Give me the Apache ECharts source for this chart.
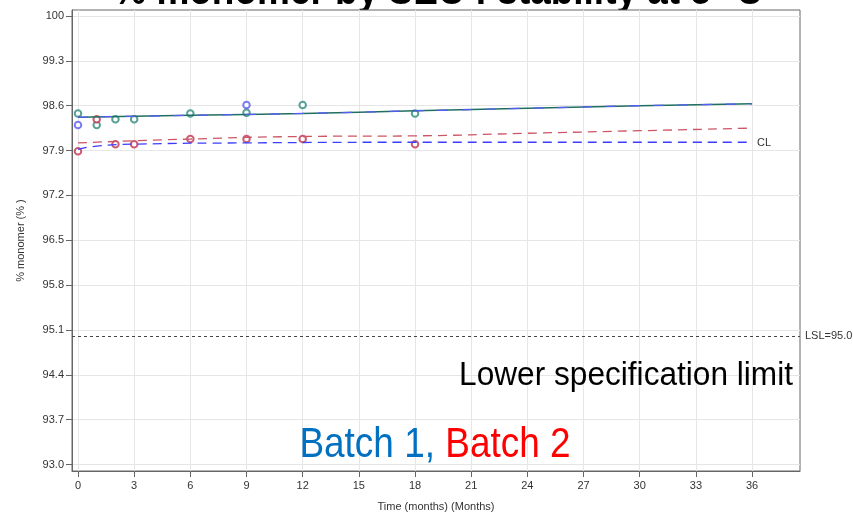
<!DOCTYPE html>
<html>
<head>
<meta charset="utf-8">
<script src="https://cdn.jsdelivr.net/npm/echarts@6/dist/echarts.min.js"></script>
<style>html,body{margin:0;padding:0;background:#fff}#c{width:853px;height:512px}</style>
</head>
<body>
<div id="c"></div>
<script>
// ---- data ----
var xTicks = [0, 3, 6, 9, 12, 15, 18, 21, 24, 27, 30, 33, 36];
var yTicks = [93.0, 93.7, 94.4, 95.1, 95.8, 96.5, 97.2, 97.9, 98.6, 99.3, 100];

var tealMonths = [0, 1, 2, 3, 6, 9, 12, 18];
var tealValues = [98.48, 98.30, 98.39, 98.39, 98.48, 98.49, 98.61, 98.48];

var blueMonths = [0, 9];
var blueValues = [98.30, 98.61];

var redMonths = [0, 1, 2, 3, 6, 9, 12, 18];
var redValues = [97.89, 98.39, 98.00, 98.00, 98.08, 98.08, 98.08, 98.00];

var fitMonths = [0, 6, 12, 18, 24, 30, 36];
var tealFit = [98.42, 98.45, 98.48, 98.52, 98.56, 98.60, 98.63];
var redFit = [98.02, 98.08, 98.12, 98.13, 98.17, 98.21, 98.25];
var blueFitMonths = [0, 1, 3, 9, 18, 36];
var blueFit = [97.92, 97.97, 98.00, 98.02, 98.03, 98.03];

var lsl = 95.0;

function pairs(xs, ys) { return xs.map(function (x, i) { return [x, ys[i]]; }); }

var chart = echarts.init(document.getElementById('c'), null, { renderer: 'canvas' });
var FONT = '"Liberation Sans", Arial, sans-serif';

var option = {
  animation: false,
  backgroundColor: '#fff',
  grid: {
    left: 72, right: 53, top: 10, bottom: 41,
    outerBoundsMode: 'none', containLabel: false,
    show: true, backgroundColor: '#fff', borderColor: '#666', borderWidth: 1
  },
  xAxis: {
    type: 'value',
    min: -0.32, max: 38.56,
    name: 'Time (months) (Months)',
    nameLocation: 'middle', nameGap: 30,
    nameTextStyle: { fontFamily: FONT, fontSize: 11, color: '#333' },
    axisLine: { show: true, onZero: false, lineStyle: { color: '#666' } },
    axisTick: { show: true, length: 6, customValues: xTicks, lineStyle: { color: '#666' } },
    axisLabel: { customValues: xTicks, fontFamily: FONT, fontSize: 11, color: '#333', margin: 9 },
    splitLine: { show: true, lineStyle: { color: '#e6e6e6', width: 1 } }
  },
  yAxis: {
    type: 'value',
    min: 92.899, max: 100.094,
    name: '% monomer (% )',
    nameLocation: 'middle', nameGap: 46,
    nameTextStyle: { fontFamily: FONT, fontSize: 11, color: '#333' },
    axisLine: { show: true, onZero: false, lineStyle: { color: '#666' } },
    axisTick: { show: true, length: 6, customValues: yTicks, lineStyle: { color: '#666' } },
    axisLabel: {
      customValues: yTicks, fontFamily: FONT, fontSize: 11, color: '#333', margin: 8,
      formatter: function (v) { return Math.abs(v - 100) < 1e-6 ? '100' : v.toFixed(1); }
    },
    splitLine: { show: true, lineStyle: { color: '#e6e6e6', width: 1 } }
  },
  series: [
    {
      type: 'line', name: 'fitTeal', data: pairs(fitMonths, tealFit),
      showSymbol: false, smooth: true,
      lineStyle: { color: '#1f6f62', width: 1.5 },
      markLine: {
        silent: true, symbol: 'none',
        lineStyle: { color: '#444', type: [3, 3], width: 1 },
        label: { show: true, position: 'end', formatter: 'LSL=95.0', color: '#333', fontFamily: FONT, fontSize: 11, distance: 5 },
        data: [{ yAxis: lsl }]
      }
    },
    {
      type: 'line', name: 'fitTealBlue', data: pairs(fitMonths, tealFit),
      showSymbol: false, smooth: true,
      lineStyle: { color: '#5a5aff', width: 1.2, type: [10, 14] }
    },
    {
      type: 'line', name: 'fitRed', data: pairs(fitMonths, redFit),
      showSymbol: false, smooth: true,
      lineStyle: { color: '#cc5566', width: 1.3, type: [9, 6] }
    },
    {
      type: 'line', name: 'fitBlue', data: pairs(blueFitMonths, blueFit),
      showSymbol: false, smooth: true,
      lineStyle: { color: '#3c3cff', width: 1.3, type: [9, 6] }
    },
    {
      type: 'scatter', name: 'teal', data: pairs(tealMonths, tealValues),
      symbol: 'emptyCircle', symbolSize: 6.5,
      itemStyle: { color: '#2e8a7c', borderColor: '#2e8a7c', borderWidth: 1.3 }
    },
    {
      type: 'scatter', name: 'blue', data: pairs(blueMonths, blueValues),
      symbol: 'emptyCircle', symbolSize: 6.5,
      itemStyle: { color: '#5a5af0', borderColor: '#5a5af0', borderWidth: 1.3 }
    },
    {
      type: 'scatter', name: 'red', data: pairs(redMonths, redValues),
      symbol: 'emptyCircle', symbolSize: 6.5,
      itemStyle: { color: '#c0334d', borderColor: '#c0334d', borderWidth: 1.3 }
    }
  ],
  graphic: [
    {
      type: 'text', x: 438, y: -8, z: -10, scaleX: 0.88,
      style: {
        text: '% monomer by SEC : stability at 5 °C',
        font: 'bold 42px ' + FONT, fill: '#000',
        align: 'center', verticalAlign: 'middle'
      }
    },
    {
      type: 'text', x: 793, y: 376, z: 50, scaleX: 0.93,
      style: {
        text: 'Lower specification limit',
        font: '34px ' + FONT, fill: '#000',
        align: 'right', verticalAlign: 'middle'
      }
    },
    {
      type: 'text', x: 435, y: 445, z: 50, scaleX: 0.88,
      style: {
        text: '{a|Batch 1,} {b|Batch 2}',
        font: '42px ' + FONT,
        align: 'center', verticalAlign: 'middle',
        rich: {
          a: { fill: '#0070C0', font: '42px ' + FONT },
          b: { fill: '#FF0000', font: '42px ' + FONT }
        }
      }
    },
    {
      type: 'text', x: 757, y: 143, z: 50,
      style: { text: 'CL', font: '11px ' + FONT, fill: '#333', align: 'left', verticalAlign: 'middle' }
    }
  ]
};
chart.setOption(option);
</script>
</body>
</html>
